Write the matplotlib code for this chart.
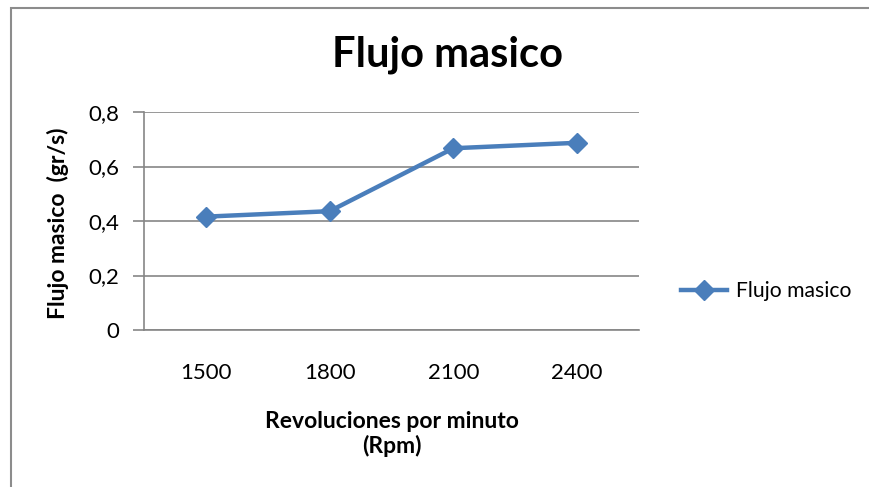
import matplotlib
matplotlib.use("Agg")
from matplotlib import pyplot as plt
from matplotlib.patches import Rectangle
from matplotlib.ticker import FuncFormatter

rpm = ["1500", "1800", "2100", "2400"]
flujo = [0.416, 0.436, 0.667, 0.687]
yticks = [0, 0.2, 0.4, 0.6, 0.8]

plt.rcParams['font.family'] = ['Lato', 'DejaVu Sans']

W, H = 869, 487
fig = plt.figure(figsize=(W / 100, H / 100), dpi=100)

# outer chart frame (only left and top edges visible in the crop)
fig.patches.append(Rectangle((11 / W, -0.1), 1.2, 1 - 8 / H + 0.1,
                             transform=fig.transFigure, fill=False,
                             edgecolor="#8c8c8c", linewidth=1.5))

ax = fig.add_axes([144 / W, 1 - 330 / H, 495 / W, 218 / H])
x = range(len(rpm))
line, = ax.plot(x, flujo, color="#4a7ebb", linewidth=3.2, marker="D",
                markersize=10, markerfacecolor="#4a7ebb",
                markeredgecolor="#4a7ebb", label="Flujo masico")

ax.set_xlim(-0.5, len(rpm) - 0.5)
ax.set_ylim(0, 0.8)
ax.set_xticks(list(x))
ax.set_xticklabels(rpm)
ax.set_yticks(yticks)
ax.yaxis.set_major_formatter(FuncFormatter(
    lambda v, p: "0" if v == 0 else f"{v:.1f}".replace(".", ",")))
ax.grid(axis="y", color="#868686", linewidth=1.2)
ax.set_axisbelow(True)

for s in ["top", "right"]:
    ax.spines[s].set_visible(False)
for s in ["left", "bottom"]:
    ax.spines[s].set_color("#868686")
    ax.spines[s].set_linewidth(1.2)

ax.tick_params(axis="y", length=8, width=1.2, color="#868686",
               labelsize=16, pad=10)
ax.tick_params(axis="x", length=0, labelsize=16, pad=24)

fig.text(447 / W, 1 - 55 / H, "Flujo masico", ha="center", va="center",
         fontsize=30, fontweight="bold")
fig.text(58 / W, 1 - 223 / H, "Flujo masico  (gr/s)", ha="center",
         va="center", rotation=90, fontsize=16.5, fontweight="bold")
fig.text(392 / W, 1 - 434 / H, "Revoluciones por minuto\n(Rpm)",
         ha="center", va="center", fontsize=16.5, fontweight="bold",
         linespacing=1.15)

fig.legend(handles=[line], loc="center left",
           bbox_to_anchor=(662 / W, 1 - 291 / H), frameon=False,
           fontsize=15.2, handlelength=2.2, handletextpad=0.4)

fig.savefig("out.png", dpi=100)
